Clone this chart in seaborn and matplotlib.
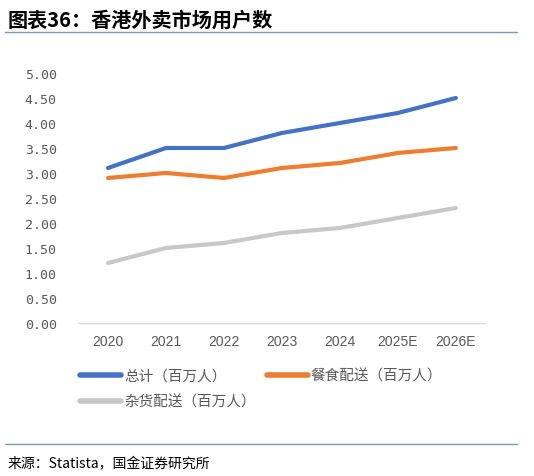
import numpy as np
import pandas as pd
import matplotlib
matplotlib.use("Agg")
import matplotlib.pyplot as plt
import seaborn as sns
from matplotlib.lines import Line2D

years = ["2020", "2021", "2022", "2023", "2024", "2025E", "2026E"]
total_users = [3.1, 3.5, 3.5, 3.8, 4.0, 4.2, 4.5]
meal_users = [2.9, 3.0, 2.9, 3.1, 3.2, 3.4, 3.5]
grocery_users = [1.2, 1.5, 1.6, 1.8, 1.9, 2.1, 2.3]
series_names = ["总计（百万人）", "餐食配送（百万人）", "杂货配送（百万人）"]
yticks = [0.0, 0.5, 1.0, 1.5, 2.0, 2.5, 3.0, 3.5, 4.0, 4.5, 5.0]

colors = ["#4472C4", "#ED7D31", "#C8C8C8"]

sns.set_style("white")
plt.rcParams['font.family'] = ['Noto Sans CJK SC', 'DejaVu Sans']

df = pd.DataFrame({
    "year": years * 3,
    "value": total_users + meal_users + grocery_users,
    "series": [series_names[0]] * 7 + [series_names[1]] * 7 + [series_names[2]] * 7,
})

fig = plt.figure(figsize=(5.34, 4.77), dpi=100)
ax = fig.add_axes([0.148, 0.3208, 0.760, 0.5241])

sns.lineplot(data=df, x="year", y="value", hue="series", hue_order=series_names,
             palette=colors, linewidth=3, ax=ax, sort=False)
for ln in ax.get_lines():
    ln.set_solid_capstyle("round")
    ln.set_solid_joinstyle("round")

ax.set_xlim(-0.5, 6.5)
ax.set_ylim(0, 5)
ax.set_yticks(yticks)
ax.set_yticklabels([f"{v:.2f}" for v in yticks], family="DejaVu Sans Mono",
                   fontsize=9.5, color="#595959")
ax.set_xticks(range(len(years)))
ax.set_xticklabels(years, family="Liberation Sans", fontsize=10, color="#595959")
ax.tick_params(axis="both", length=0)
ax.tick_params(axis="y", pad=16)
ax.tick_params(axis="x", pad=8)
ax.set_xlabel("")
ax.set_ylabel("")
for side in ["top", "right", "left"]:
    ax.spines[side].set_visible(False)
ax.spines["bottom"].set_color("#D9D9D9")
ax.spines["bottom"].set_linewidth(1)

handles, labels = ax.get_legend_handles_labels()
ax.get_legend().remove()
order = [0, 2, 1]
leg = fig.legend([handles[i] for i in order], [labels[i] for i in order],
                 loc="upper left", bbox_to_anchor=(0.126, 0.252), ncol=2,
                 frameon=False, fontsize=10.5, handlelength=2.8,
                 handletextpad=0.2, columnspacing=0.75, labelspacing=0.8,
                 labelcolor="#595959")
for h in leg.legend_handles:
    h.set_linewidth(4)
    h.set_solid_capstyle("round")

fig.text(0.015, 0.958, "图表36：香港外卖市场用户数", fontsize=14.5, fontweight="bold",
         color="black", va="center", ha="left", style="italic")
fig.add_artist(Line2D([0.01, 0.968], [0.931, 0.931], color="#7F98AA", linewidth=1))
fig.add_artist(Line2D([0.01, 0.968], [0.067, 0.067], color="#7F98AA", linewidth=1))
fig.text(0.015, 0.027, "来源：Statista，国金证券研究所", fontsize=10, color="black",
         va="center", ha="left")

fig.savefig("out.png", dpi=100)
